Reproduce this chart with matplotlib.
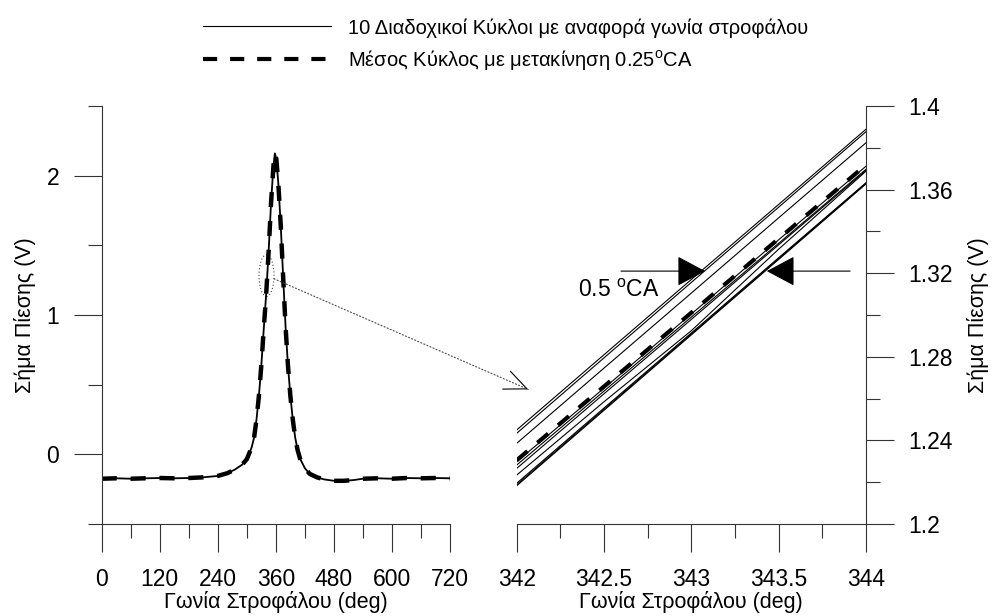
import matplotlib
matplotlib.use('Agg')
import matplotlib.pyplot as plt
from matplotlib.patches import Ellipse, ConnectionPatch
from matplotlib.ticker import MultipleLocator, FormatStrFormatter

plt.rcParams['font.family'] = ['Liberation Sans', 'DejaVu Sans']
plt.rcParams['mathtext.fontset'] = 'custom'
plt.rcParams['mathtext.rm'] = 'Liberation Sans'

# ---------------- data: full cycle (left panel) ----------------
crank_angle = [0, 30, 60, 90, 120, 150, 180, 210, 240, 260, 275, 290, 300, 310,
               315, 320, 325, 330, 335, 340, 345, 350, 355, 358, 361, 365, 370,
               375, 380, 385, 390, 395, 400, 405, 410, 420, 430, 445, 460, 480,
               500, 520, 540, 570, 600, 630, 660, 690, 720]
pressure_signal = [-0.175, -0.172, -0.175, -0.172, -0.170, -0.172, -0.170, -0.165,
                   -0.155, -0.135, -0.110, -0.075, -0.035, 0.050, 0.120, 0.250,
                   0.420, 0.640, 0.900, 1.150, 1.450, 1.800, 2.070, 2.160, 2.120,
                   1.950, 1.650, 1.280, 0.920, 0.640, 0.420, 0.250, 0.120, 0.030,
                   -0.030, -0.100, -0.140, -0.165, -0.180, -0.190, -0.190, -0.185,
                   -0.175, -0.172, -0.175, -0.170, -0.172, -0.170, -0.172]

# ---------------- data: zoomed window (right panel) ----------------
zoom_angle = [342.0, 342.5, 343.0, 343.5, 344.0]
cycle_01 = [1.2450, 1.2810, 1.3170, 1.3529, 1.3889]
cycle_02 = [1.2434, 1.2795, 1.3156, 1.3516, 1.3877]
cycle_03 = [1.2386, 1.2746, 1.3105, 1.3465, 1.3824]
cycle_04 = [1.2282, 1.2636, 1.2990, 1.3343, 1.3697]
cycle_05 = [1.2266, 1.2623, 1.2979, 1.3336, 1.3692]
cycle_06 = [1.2234, 1.2585, 1.2925, 1.3315, 1.3688]
cycle_07 = [1.2195, 1.2555, 1.2914, 1.3274, 1.3633]
cycle_08 = [1.2183, 1.2544, 1.2905, 1.3266, 1.3627]
cycle_09 = [1.2188, 1.2549, 1.2909, 1.3270, 1.3630]
cycle_10 = [1.2298, 1.2650, 1.3005, 1.3360, 1.3712]
cycles = [cycle_01, cycle_02, cycle_03, cycle_04, cycle_05,
          cycle_06, cycle_07, cycle_08, cycle_09, cycle_10]
mean_cycle = [1.2305, 1.2658, 1.3011, 1.3365, 1.3718]

legend_cycles = '10 Διαδοχικοί Κύκλοι με αναφορά γωνία στροφάλου'
legend_mean = 'Μέσος Κύκλος με μετακίνηση 0.25$^{\\mathregular{o}}$CA'
x_label = 'Γωνία Στροφάλου (deg)'
y_label = 'Σήμα Πίεσης (V)'
shift_text = '0.5 $^{\\mathregular{o}}$CA'

FS = 16.5
AFS = 15.5
LFS = 14.5
W, H = 992, 616
fig = plt.figure(figsize=(W / 100, H / 100), dpi=100)
ax1 = fig.add_axes([101.7 / W, 92 / H, 348.3 / W, 418 / H])
ax2 = fig.add_axes([516.7 / W, 92 / H, 349.3 / W, 418 / H])

dash = (0, (3.4, 3.1))

# ---- left panel ----
ax1.plot(crank_angle, pressure_signal, color='black', lw=1.3)
ax1.plot(crank_angle, pressure_signal, color='black', lw=3.2, linestyle=dash)
ax1.set_xlim(0, 720)
ax1.set_ylim(-0.5, 2.5)
ax1.xaxis.set_major_locator(MultipleLocator(120))
ax1.xaxis.set_minor_locator(MultipleLocator(60))
ax1.yaxis.set_major_locator(MultipleLocator(1))
ax1.set_yticks([-0.5, 0.5, 1.5, 2.5], minor=True)
ax1.spines['top'].set_visible(False)
ax1.spines['right'].set_visible(False)

# ---- right panel ----
h_cyc = None
for c in cycles:
    h_cyc, = ax2.plot(zoom_angle, c, color='black', lw=0.8)
h_mean, = ax2.plot(zoom_angle, mean_cycle, color='black', lw=3.0, linestyle=dash)
ax2.set_xlim(342, 344)
ax2.set_ylim(1.2, 1.4)
ax2.xaxis.set_major_locator(MultipleLocator(0.5))
ax2.xaxis.set_minor_locator(MultipleLocator(0.25))
ax2.yaxis.set_major_locator(MultipleLocator(0.04))
ax2.yaxis.set_minor_locator(MultipleLocator(0.02))
ax2.xaxis.set_major_formatter(FormatStrFormatter('%g'))
ax2.yaxis.set_major_formatter(FormatStrFormatter('%g'))
ax2.yaxis.tick_right()
ax2.yaxis.set_label_position('right')
ax2.spines['top'].set_visible(False)
ax2.spines['left'].set_visible(False)

for ax in (ax1, ax2):
    ax.tick_params(which='major', direction='out', length=20, width=0.8,
                   labelsize=FS, color='#333333')
    ax.tick_params(which='minor', direction='out', length=10, width=0.8,
                   color='#333333')
    ax.tick_params(axis='x', which='major', pad=12)
    ax.tick_params(axis='y', which='major', pad=10.5)
    for s in ax.spines.values():
        s.set_linewidth(0.8)
        s.set_color('#333333')
    ax.set_xlabel(x_label, fontsize=AFS)
    ax.set_ylabel(y_label, fontsize=AFS)

ax1.xaxis.set_label_coords(0.5, -0.1603)
ax2.xaxis.set_label_coords(0.5, -0.1603)
ax1.yaxis.set_label_coords(-0.19, 0.5)
ax2.yaxis.set_label_coords(1.29, 0.5)

# ---- annotations ----
ell = Ellipse((340.7, 1.283), 31, 0.30, fill=False, linestyle=(0, (1, 2)),
              lw=0.8, edgecolor='#444444')
ax1.add_patch(ell)
con = ConnectionPatch(xyA=(356.2, 1.26), coordsA=ax1.transData,
                      xyB=(342.066, 1.2644), coordsB=ax2.transData,
                      arrowstyle='-', linestyle=(0, (1, 2)), lw=0.8,
                      color='#444444')
fig.add_artist(con)
ax2.annotate('', xy=(342.066, 1.2644), xytext=(342.050, 1.26497),
             arrowprops=dict(arrowstyle='->,head_length=16,head_width=7',
                             mutation_scale=1, lw=0.8, color='black',
                             shrinkA=0, shrinkB=0))

ay = 1.321
ax2.annotate('', xy=(343.079, ay), xytext=(342.597, ay),
             arrowprops=dict(arrowstyle='-|>,head_length=18,head_width=9.6',
                             mutation_scale=1, lw=0.8, color='black',
                             shrinkA=0, shrinkB=0))
ax2.annotate('', xy=(343.432, ay), xytext=(343.909, ay),
             arrowprops=dict(arrowstyle='-|>,head_length=18,head_width=9.6',
                             mutation_scale=1, lw=0.8, color='black',
                             shrinkA=0, shrinkB=0))
ax2.text(342.35, 1.3115, shift_text, fontsize=FS, va='center', ha='left')

# ---- legend ----
fig.legend([h_cyc, h_mean], [legend_cycles, legend_mean], loc='upper left',
           bbox_to_anchor=(203 / W, 1 - 18 / H), frameon=False, fontsize=LFS,
           handlelength=6.35, handletextpad=0.84, borderpad=0,
           borderaxespad=0, labelspacing=0.52)

fig.savefig('out.png', dpi=100)
